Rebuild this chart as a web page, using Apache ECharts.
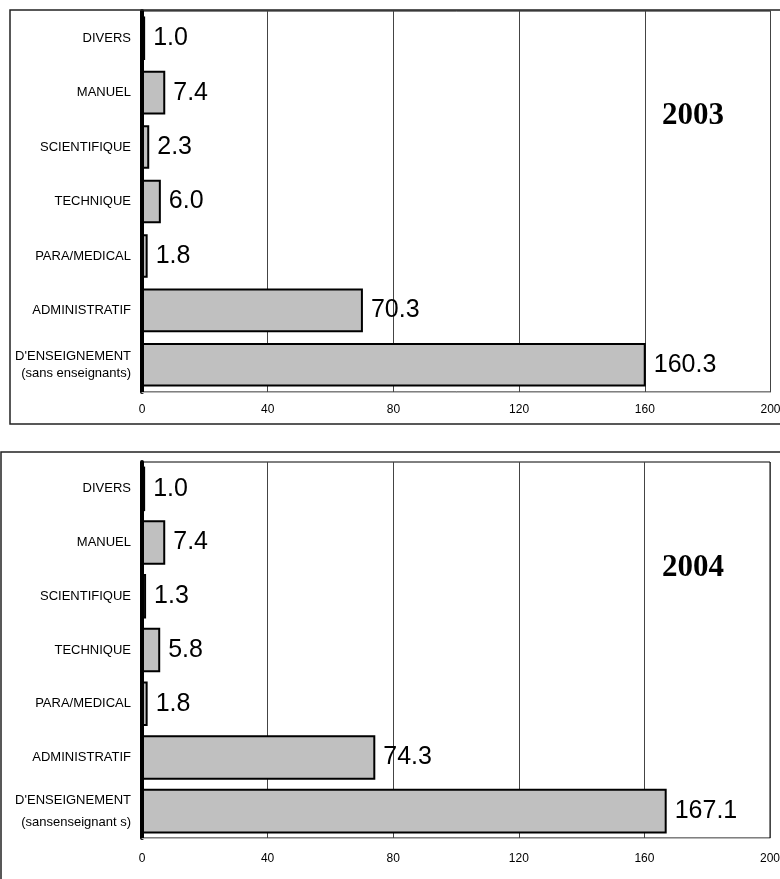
<!DOCTYPE html>
<html>
<head>
<meta charset="utf-8">
<script src="https://cdn.jsdelivr.net/npm/echarts@6/dist/echarts.min.js"></script>
<style>
html,body{margin:0;padding:0;background:#fff;}
#chart{width:780px;height:879px;}
</style>
</head>
<body>
<div id="chart"></div>
<script>
// Data (categories listed bottom to top)
const categories2003 = ["D'ENSEIGNEMENT\n(sans enseignants)", 'ADMINISTRATIF', 'PARA/MEDICAL', 'TECHNIQUE', 'SCIENTIFIQUE', 'MANUEL', 'DIVERS'];
const categories2004 = ["D'ENSEIGNEMENT\n(sansenseignant s)", 'ADMINISTRATIF', 'PARA/MEDICAL', 'TECHNIQUE', 'SCIENTIFIQUE', 'MANUEL', 'DIVERS'];
const values2003 = [160.3, 70.3, 1.8, 6.0, 2.3, 7.4, 1.0];
const values2004 = [167.1, 74.3, 1.8, 5.8, 1.3, 7.4, 1.0];
const xTicks = [0, 40, 80, 120, 160, 200];
const yearLabels = ['2003', '2004'];

const chart = echarts.init(document.getElementById('chart'), null, {renderer: 'canvas'});

function xAxisFor(gridIndex, margin) {
  return {
    type: 'value', gridIndex: gridIndex,
    min: xTicks[0], max: xTicks[xTicks.length - 1], interval: xTicks[1] - xTicks[0],
    axisLine: {show: true, onZero: false, lineStyle: {color: '#b8b8b8', width: 1}},
    axisTick: {show: false},
    splitLine: {show: true, lineStyle: {color: '#444', width: 1}},
    axisLabel: {color: '#000', fontSize: 12, fontFamily: 'Liberation Sans, Arial, sans-serif', margin: margin}
  };
}
function yAxisFor(gridIndex, cats, lh) {
  return {
    type: 'category', gridIndex: gridIndex, data: cats,
    axisLine: {show: true, lineStyle: {color: '#000', width: 4}},
    axisTick: {show: false},
    splitLine: {show: false},
    axisLabel: {color: '#000', fontSize: 13, fontFamily: 'Liberation Sans, Arial, sans-serif', margin: 11, lineHeight: lh, align: 'right'}
  };
}
function barSeries(idx, vals, gap) {
  return {
    type: 'bar', xAxisIndex: idx, yAxisIndex: idx, data: vals,
    barCategoryGap: gap,
    itemStyle: {color: '#c0c0c0', borderColor: '#000', borderWidth: 2},
    label: {
      show: true, position: 'right', distance: 8, color: '#000', fontSize: 25,
      fontFamily: 'Liberation Sans, Arial, sans-serif',
      formatter: p => p.value.toFixed(1)
    },
    animation: false
  };
}

const option = {
  animation: false,
  backgroundColor: '#fff',
  grid: [
    {left: 142, top: 11, width: 628.5, height: 381, show: true, borderColor: '#000', borderWidth: 1, containLabel: false, outerBoundsMode: 'none'},
    {left: 142, top: 462, width: 628, height: 376, show: true, borderColor: '#000', borderWidth: 1, containLabel: false, outerBoundsMode: 'none'}
  ],
  xAxis: [xAxisFor(0, 12), xAxisFor(1, 15)],
  yAxis: [yAxisFor(0, categories2003, 17), yAxisFor(1, categories2004, 22)],
  series: [barSeries(0, values2003, '20%'), barSeries(1, values2004, '17%')],
  graphic: [
    {type: 'rect', shape: {x: 10, y: 10, width: 800, height: 414}, style: {fill: 'none', stroke: '#222', lineWidth: 1.5}, z: 100, silent: true},
    {type: 'rect', shape: {x: 1, y: 452, width: 800, height: 500}, style: {fill: 'none', stroke: '#222', lineWidth: 1.5}, z: 100, silent: true},
    {type: 'text', x: 693, y: 116, style: {text: yearLabels[0], fill: '#000', font: 'bold 31px "Liberation Serif", "Times New Roman", serif', textAlign: 'center', textVerticalAlign: 'middle'}, z: 100},
    {type: 'text', x: 693, y: 568, style: {text: yearLabels[1], fill: '#000', font: 'bold 31px "Liberation Serif", "Times New Roman", serif', textAlign: 'center', textVerticalAlign: 'middle'}, z: 100}
  ]
};
chart.setOption(option);
</script>
</body>
</html>
